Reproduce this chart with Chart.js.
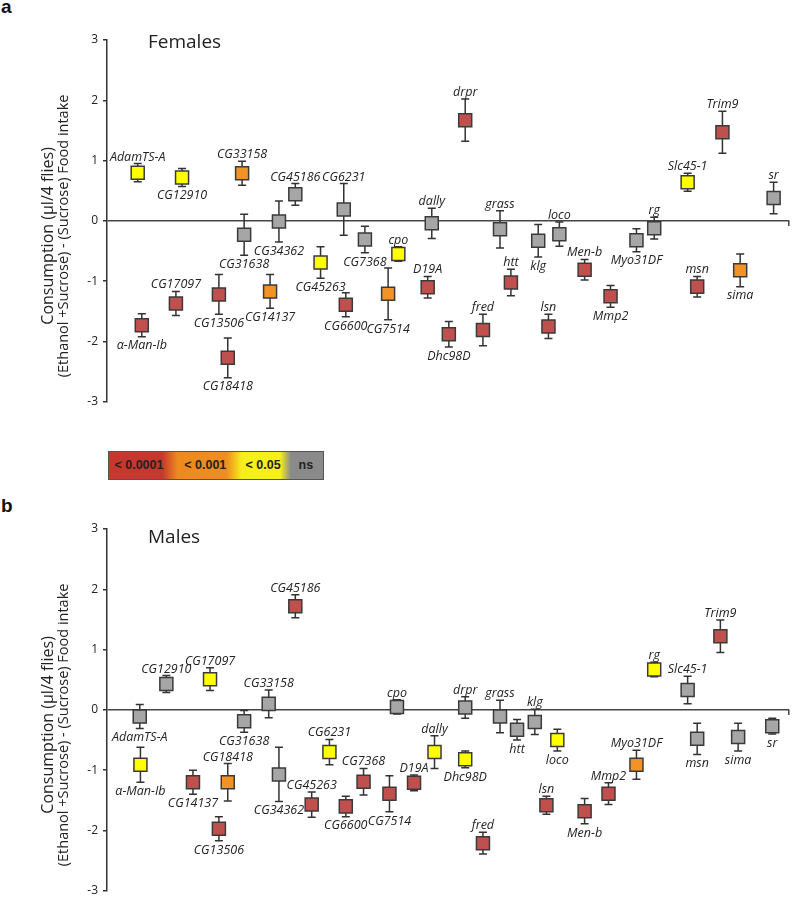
<!DOCTYPE html>
<html>
<head>
<meta charset="utf-8">
<script src="https://cdn.jsdelivr.net/npm/chart.js@4.4.1/dist/chart.umd.min.js"></script>
<style>
  body { margin: 0; width: 800px; height: 901px; overflow: hidden; background: #fff; position: relative; }
  canvas { position: absolute; left: 0; }
  .tag { position: absolute; left: 1px; font: bold 19px "Liberation Sans", Arial, sans-serif; color: #111; }
  #legend {
    position: absolute; left: 108px; top: 451px; width: 214px; height: 27px;
    border: 1px solid #555;
    background: linear-gradient(to right, #c8372d 0%, #c8372d 25%, #ec8a1f 32%, #ef8d1f 55%, #f7ee1e 62%, #f7ee1e 80%, #8a8a8a 85%, #8a8a8a 100%);
    font: bold 12.5px "Liberation Sans", Arial, sans-serif; color: #222;
  }
  #legend span { position: absolute; top: 6px; transform: translateX(-50%); white-space: nowrap; }
</style>
</head>
<body>
<div class="tag" style="top:-4px">a</div>
<div class="tag" style="top:495px">b</div>
<canvas id="females" width="800" height="414" style="top:0"></canvas>
<div id="legend"></div>
<canvas id="males" width="800" height="414" style="top:489px"></canvas>
<script>
// genes (alphabetical), same order for both sexes
const genes = ['\u03b1-Man-Ib', 'AdamTS-A', 'CG12910', 'CG13506', 'CG14137', 'CG17097', 'CG18418', 'CG31638',
  'CG33158', 'CG34362', 'CG45186', 'CG45263', 'CG6231', 'CG6600', 'CG7368', 'CG7514', 'cpo', 'D19A',
  'dally', 'Dhc98D', 'drpr', 'fred', 'grass', 'htt', 'klg', 'loco', 'lsn', 'Men-b', 'Mmp2', 'Myo31DF',
  'msn', 'rg', 'sima', 'Slc45-1', 'sr', 'Trim9'];

// p-value classes
const sigLevels = ['< 0.0001', '< 0.001', '< 0.05', 'ns'];
const sigColors = ['#c0504d', '#f39325', '#ffff00', '#a6a6a6'];

// females (panel a)
const femX = [5.1, 4.5, 11.0, 16.4, 23.9, 10.1, 17.7, 20.1, 19.8, 25.2, 27.6, 31.3, 34.7, 35.0, 37.8, 41.2, 42.7, 47.0,
  47.6, 50.1, 52.5, 55.1, 57.6, 59.2, 63.2, 66.3, 64.7, 70.0, 73.8, 77.6, 86.5, 80.2, 92.8, 85.1, 97.7, 90.2];
const femMean = [-1.73, 0.80, 0.72, -1.22, -1.17, -1.37, -2.27, -0.23, 0.79, -0.01, 0.44, -0.69, 0.19, -1.39, -0.31, -1.21, -0.55, -1.10,
  -0.04, -1.88, 1.67, -1.81, -0.14, -1.02, -0.33, -0.22, -1.75, -0.81, -1.25, -0.32, -1.09, -0.12, -0.82, 0.64, 0.38, 1.47];
const femErr = [0.19, 0.15, 0.15, 0.33, 0.28, 0.20, 0.33, 0.34, 0.20, 0.34, 0.18, 0.26, 0.43, 0.20, 0.22, 0.43, 0.12, 0.18,
  0.25, 0.21, 0.35, 0.26, 0.31, 0.22, 0.27, 0.20, 0.20, 0.17, 0.18, 0.19, 0.17, 0.18, 0.27, 0.15, 0.26, 0.35];
const femSig = [0, 2, 2, 0, 1, 0, 0, 3, 1, 3, 3, 2, 3, 0, 3, 1, 2, 0,
  3, 0, 0, 0, 3, 0, 3, 3, 0, 0, 0, 3, 0, 3, 1, 2, 3, 0];
const femSide = ['b', 'a', 'b', 'b', 'b', 'a', 'b', 'b', 'a', 'b', 'a', 'b', 'a', 'b', 'b', 'b', 'a', 'a',
  'a', 'b', 'a', 'a', 'a', 'a', 'b', 'a', 'a', 'a', 'b', 'b', 'a', 'a', 'b', 'a', 'a', 'a'];

// males (panel b)
const malX = [4.9, 4.8, 8.7, 16.4, 12.6, 15.1, 17.7, 20.1, 23.7, 25.2, 27.6, 30.0, 32.6, 35.0, 37.6, 41.4, 42.5, 45.0,
  48.0, 52.5, 52.5, 55.1, 57.6, 60.1, 62.7, 66.0, 64.4, 70.0, 73.5, 77.6, 86.5, 80.2, 92.5, 85.1, 97.5, 89.9];
const malMean = [-0.91, -0.11, 0.43, -1.97, -1.20, 0.51, -1.20, -0.19, 0.10, -1.07, 1.72, -1.57, -0.70, -1.60, -1.19, -1.39, 0.05, -1.21,
  -0.70, -0.82, 0.04, -2.21, -0.11, -0.33, -0.20, -0.50, -1.58, -1.68, -1.39, -0.91, -0.48, 0.67, -0.45, 0.33, -0.27, 1.22];
const malErr = [0.29, 0.20, 0.14, 0.20, 0.20, 0.19, 0.31, 0.18, 0.23, 0.45, 0.19, 0.21, 0.21, 0.17, 0.22, 0.30, 0.12, 0.13,
  0.27, 0.14, 0.18, 0.18, 0.27, 0.17, 0.21, 0.18, 0.15, 0.21, 0.18, 0.24, 0.26, 0.12, 0.23, 0.23, 0.13, 0.27];
const malSig = [2, 3, 3, 0, 0, 2, 1, 3, 3, 3, 0, 0, 2, 0, 0, 0, 3, 0,
  2, 2, 3, 0, 3, 3, 3, 2, 0, 0, 0, 1, 3, 2, 3, 3, 3, 0];
const malSide = ['b', 'b', 'a', 'b', 'b', 'a', 'a', 'b', 'a', 'b', 'a', 'a', 'a', 'b', 'a', 'b', 'a', 'a',
  'a', 'b', 'a', 'a', 'a', 'b', 'a', 'b', 'a', 'b', 'a', 'a', 'b', 'a', 'b', 'a', 'b', 'a'];

const yTicks = [-3, -2, -1, 0, 1, 2, 3];

// legend bar
const legendPos = [14, 45, 72, 92];   // percent across the bar
const legend = document.getElementById('legend');
sigLevels.forEach((s, i) => {
  const sp = document.createElement('span');
  sp.textContent = s;
  sp.style.left = legendPos[i] + '%';
  legend.appendChild(sp);
});

// error bars, gene labels, axis title and panel title
const decorPlugin = {
  id: 'decor',
  beforeDatasetsDraw(chart) {
    const o = chart.options.plugins.decor;
    const ctx = chart.ctx, xs = chart.scales.x, ys = chart.scales.y;
    ctx.save();
    ctx.strokeStyle = '#333';
    ctx.lineWidth = 1.5;
    o.mean.forEach((m, i) => {
      const px = xs.getPixelForValue(o.x[i]);
      const top = ys.getPixelForValue(m + o.err[i]);
      const bot = ys.getPixelForValue(m - o.err[i]);
      ctx.beginPath();
      ctx.moveTo(px, top); ctx.lineTo(px, bot);
      ctx.moveTo(px - 4, top); ctx.lineTo(px + 4, top);
      ctx.moveTo(px - 4, bot); ctx.lineTo(px + 4, bot);
      ctx.stroke();
    });
    ctx.restore();
  },
  afterDatasetsDraw(chart) {
    const o = chart.options.plugins.decor;
    const ctx = chart.ctx, xs = chart.scales.x, ys = chart.scales.y;
    const area = chart.chartArea;
    ctx.save();
    // small tick at the right end of the zero line
    const y0 = ys.getPixelForValue(0);
    ctx.strokeStyle = '#444';
    ctx.lineWidth = 1.5;
    ctx.beginPath();
    ctx.moveTo(area.right - 0.5, y0); ctx.lineTo(area.right - 0.5, y0 + 5);
    ctx.stroke();

    ctx.fillStyle = '#222';
    ctx.font = 'italic 12.5px "Open Sans", sans-serif';
    ctx.textAlign = 'center';
    genes.forEach((g, i) => {
      const px = xs.getPixelForValue(o.x[i]);
      const m = o.mean[i], e = o.err[i];
      if (o.side[i] === 'a') {
        const top = Math.min(ys.getPixelForValue(m + e), ys.getPixelForValue(m) - 7);
        ctx.textBaseline = 'alphabetic';
        ctx.fillText(g, px, top - 3);
      } else {
        const bot = Math.max(ys.getPixelForValue(m - e), ys.getPixelForValue(m) + 7);
        ctx.textBaseline = 'top';
        ctx.fillText(g, px, bot + 3);
      }
    });

    // panel title
    ctx.textAlign = 'left';
    ctx.textBaseline = 'alphabetic';
    ctx.font = '19px "Open Sans", sans-serif';
    ctx.fillStyle = '#222';
    ctx.fillText(o.title, 148, area.top + o.titleDy);

    // two-line y axis title
    const cy = (area.top + area.bottom) / 2 + 15;
    ctx.translate(0, cy);
    ctx.rotate(-Math.PI / 2);
    ctx.textAlign = 'center';
    ctx.textBaseline = 'middle';
    ctx.font = '16px "Open Sans", sans-serif';
    ctx.fillText('Consumption (\u00b5l/4 flies)', 0, 48);
    ctx.font = '14.5px "Open Sans", sans-serif';
    ctx.fillText('(Ethanol +Sucrose) - (Sucrose) Food intake', 0, 64);
    ctx.restore();
  }
};

function makePanel(id, title, titleDy, xs, mean, err, sig, side) {
  return new Chart(document.getElementById(id), {
    type: 'scatter',
    data: {
      datasets: [{
        data: xs.map((x, i) => ({ x: x, y: mean[i] })),
        pointStyle: 'rect',
        pointRadius: 9.2,
        pointHoverRadius: 9.2,
        backgroundColor: sig.map(s => sigColors[s]),
        borderColor: '#3a3a3a',
        borderWidth: 1.5
      }]
    },
    options: {
      responsive: false,
      animation: false,
      layout: { padding: { top: 40, bottom: 4, left: 0, right: 2 } },
      scales: {
        x: { type: 'linear', min: 0, max: 100, display: false },
        y: {
          min: -3, max: 3,
          afterBuildTicks: s => { s.ticks = yTicks.map(v => ({ value: v })); },
          afterFit: s => { s.width = 107; },
          border: { display: true, color: '#333', width: 1.5 },
          grid: {
            color: c => (c.tick && c.tick.value === 0) ? '#444' : 'rgba(0,0,0,0)',
            lineWidth: 1.5,
            tickColor: '#333',
            tickLength: 4
          },
          ticks: {
            color: '#222',
            padding: 5,
            font: { family: '"Open Sans", sans-serif', size: 12 }
          }
        }
      },
      plugins: {
        legend: { display: false },
        tooltip: { enabled: false },
        decor: { title: title, titleDy: titleDy, x: xs, mean: mean, err: err, side: side }
      }
    },
    plugins: [decorPlugin]
  });
}

makePanel('females', 'Females', 8, femX, femMean, femErr, femSig, femSide);
makePanel('males', 'Males', 14, malX, malMean, malErr, malSig, malSide);
</script>
</body>
</html>
